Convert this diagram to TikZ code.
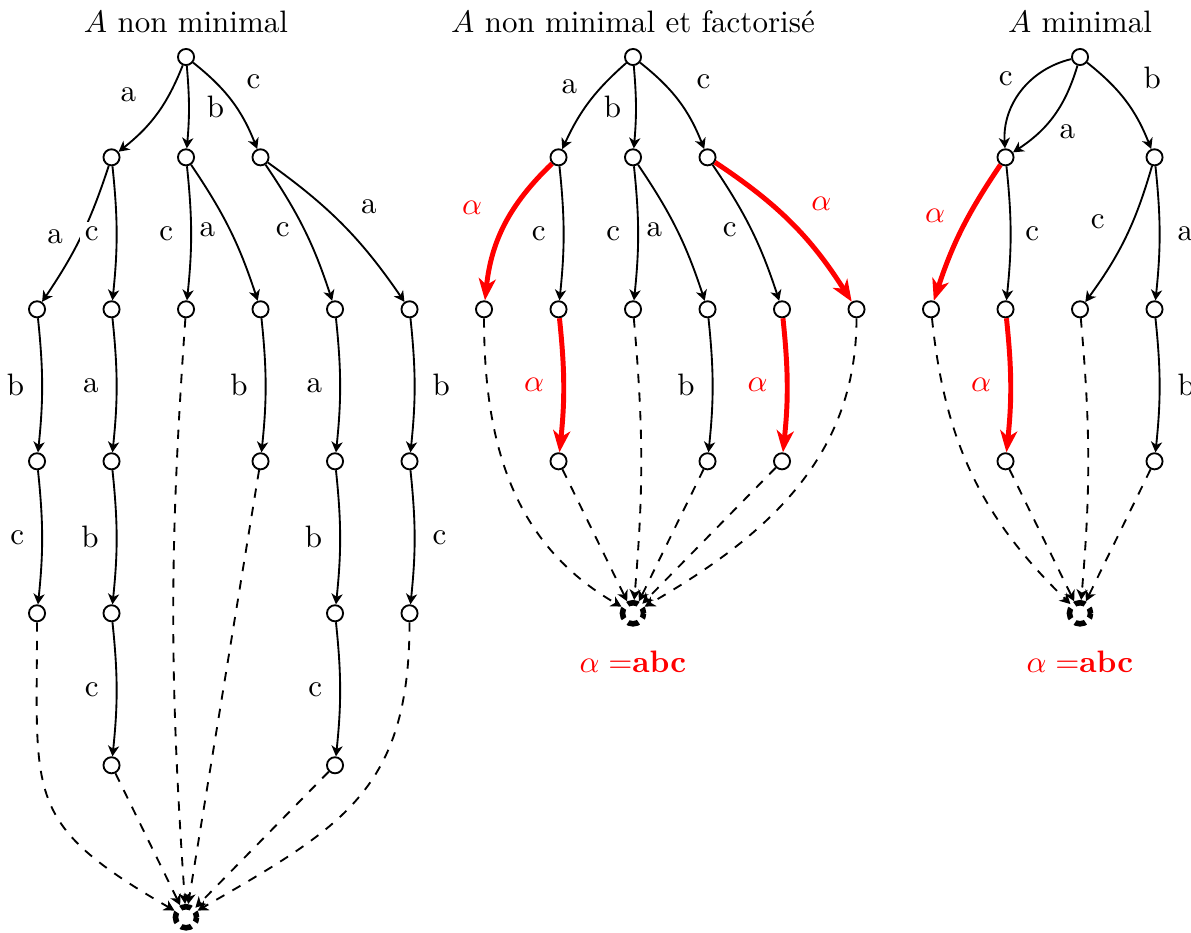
\documentclass[tikz,border=0pt]{standalone}
\usepackage{tikz}
\usetikzlibrary{arrows.meta,positioning}

\begin{document}
\begin{tikzpicture}[
  x=0.8447cm,
  y=1.7233cm,
  etat/.style={circle,draw,semithick,inner sep=0pt,minimum size=5.2pt},
  etatfinal/.style={
    circle,draw,line width=1.8pt,inner sep=0pt,minimum size=6.8pt,
    dash pattern=on 3.5pt off 1.84pt,dash phase=1.75pt
  },
  trans/.style={semithick,-{Stealth[length=3.4pt,width=3.6pt,inset=1pt]}},
  eps/.style={trans,dashed},
  facto/.style={red,ultra thick,-{Stealth[length=7pt,width=5.5pt,inset=2pt]}},
  lbl/.style={fill=white,inner sep=1.5pt},
  alab/.style={lbl,text=red}
]

\useasboundingbox (-0.497,0.375) rectangle (15.49,-5.763);

% ==================================================
% A non minimal
% ==================================================
\begin{scope}

  \node (tu) at (2,0.23) {$A$ non minimal};

  % etats
  \node[etat] (u) at (2,0) {};
  \node[etat] (ua) at (1,-0.66) {};
  \node[etat] (ub) at (2,-0.66) {};
  \node[etat] (uc) at (3,-0.66) {};
  \node[etat] (uaa) at (0,-1.66) {};
  \node[etat] (uac) at (1,-1.66) {};
  \node[etat] (ubc) at (2,-1.66) {};
  \node[etat] (uba) at (3,-1.66) {};
  \node[etat] (ucc) at (4,-1.66) {};
  \node[etat] (uca) at (5,-1.66) {};
  \node[etat] (uaab) at (0,-2.66) {};
  \node[etat] (uaca) at (1,-2.66) {};
  \node[etat] (ubab) at (3,-2.66) {};
  \node[etat] (ucca) at (4,-2.66) {};
  \node[etat] (ucab) at (5,-2.66) {};
  \node[etat] (uaabc) at (0,-3.66) {};
  \node[etat] (uacab) at (1,-3.66) {};
  \node[etat] (uccab) at (4,-3.66) {};
  \node[etat] (ucabc) at (5,-3.66) {};
  \node[etat] (uacabc) at (1,-4.66) {};
  \node[etat] (uccabc) at (4,-4.66) {};
  \node[etatfinal] (uf) at (2,-5.66) {};

  % transitions
  \draw[trans] (u) to[bend left=15] node[lbl,above left=2pt and 5pt] {a} (ua);
  \draw[trans] (u) to[bend left=5] node[lbl,right=4pt] {b} (ub);
  \draw[trans] (u) to[bend left=15] node[lbl,above right=2pt and 3pt] {c} (uc);

  \draw[trans] (ua) to[bend left=8] node[lbl,left=4pt] {a} (uaa);
  \draw[trans] (ua) to[bend left=6] node[lbl,left=4pt] {c} (uac);
  \draw[trans] (ub) to[bend left=6] node[lbl,left=4pt] {c} (ubc);
  \draw[trans] (ub) to[bend left=8] node[lbl,left=3pt] {a} (uba);
  \draw[trans] (uc) to[bend left=8] node[lbl,left=3pt] {c} (ucc);
  \draw[trans] (uc) to[bend left=10] node[lbl,above right=2pt and 4pt] {a} (uca);

  \draw[trans] (uaa) to[bend left=6] node[lbl,left=4pt] {b} (uaab);
  \draw[trans] (uaab) to[bend left=6] node[lbl,left=4pt] {c} (uaabc);
  \draw[trans] (uac) to[bend left=6] node[lbl,left=4pt] {a} (uaca);
  \draw[trans] (uaca) to[bend left=6] node[lbl,left=4pt] {b} (uacab);
  \draw[trans] (uacab) to[bend left=6] node[lbl,left=4pt] {c} (uacabc);
  \draw[trans] (uba) to[bend left=6] node[lbl,left=4pt] {b} (ubab);
  \draw[trans] (ucc) to[bend left=6] node[lbl,left=4pt] {a} (ucca);
  \draw[trans] (ucca) to[bend left=6] node[lbl,left=4pt] {b} (uccab);
  \draw[trans] (uccab) to[bend left=6] node[lbl,left=4pt] {c} (uccabc);
  \draw[trans] (uca) to[bend left=6] node[lbl,right=4pt] {b} (ucab);
  \draw[trans] (ucab) to[bend left=6] node[lbl,right=4pt] {c} (ucabc);

  % vers l'etat final
  \draw[eps] (uaabc) to[out=-90,in=150,looseness=1.4] (uf);
  \draw[eps] (uacabc) -- (uf);
  \draw[eps] (ubc) to[bend right=4] (uf);
  \draw[eps] (ubab) -- (uf);
  \draw[eps] (uccabc) -- (uf);
  \draw[eps] (ucabc) to[out=-90,in=30,looseness=1.2] (uf);

\end{scope}

% ==================================================
% A non minimal et factorise
% ==================================================
\begin{scope}[shift={(6,0)}]

  \node (tf) at (2,0.23) {$A$ non minimal et factorisé};

  % etats
  \node[etat] (f) at (2,0) {};
  \node[etat] (fa) at (1,-0.66) {};
  \node[etat] (fb) at (2,-0.66) {};
  \node[etat] (fc) at (3,-0.66) {};
  \node[etat] (fax) at (0,-1.66) {};
  \node[etat] (fac) at (1,-1.66) {};
  \node[etat] (fbc) at (2,-1.66) {};
  \node[etat] (fba) at (3,-1.66) {};
  \node[etat] (fcc) at (4,-1.66) {};
  \node[etat] (fcx) at (5,-1.66) {};
  \node[etat] (facx) at (1,-2.66) {};
  \node[etat] (fbab) at (3,-2.66) {};
  \node[etat] (fccx) at (4,-2.66) {};
  \node[etatfinal] (ff) at (2,-3.66) {};

  \node[text=red] (fdef) at (2,-3.98) {$\alpha =$\textbf{abc}};

  % transitions
  \draw[trans] (f) to[bend right=12] node[lbl,above left=1pt and 2pt] {a} (fa);
  \draw[trans] (f) to[bend left=5] node[lbl,left=3pt] {b} (fb);
  \draw[trans] (f) to[bend left=15] node[lbl,above right=2pt and 4pt] {c} (fc);

  \draw[facto] (fa) to[bend right=20] node[alab,above left=1pt and 5pt] {$\alpha$} (fax);
  \draw[trans] (fa) to[bend left=6] node[lbl,left=4pt] {c} (fac);
  \draw[trans] (fb) to[bend left=6] node[lbl,left=4pt] {c} (fbc);
  \draw[trans] (fb) to[bend left=8] node[lbl,left=3pt] {a} (fba);
  \draw[trans] (fc) to[bend left=8] node[lbl,left=3pt] {c} (fcc);
  \draw[facto] (fc) to[bend left=12] node[alab,above right=2pt and 4pt] {$\alpha$} (fcx);

  \draw[facto] (fac) to[bend left=6] node[alab,left=4pt] {$\alpha$} (facx);
  \draw[trans] (fba) to[bend left=6] node[lbl,left=4pt] {b} (fbab);
  \draw[facto] (fcc) to[bend left=6] node[alab,left=4pt] {$\alpha$} (fccx);

  % vers l'etat final
  \draw[eps] (fax) to[out=-90,in=150] (ff);
  \draw[eps] (facx) -- (ff);
  \draw[eps] (fbc) to[bend left=5] (ff);
  \draw[eps] (fbab) -- (ff);
  \draw[eps] (fccx) -- (ff);
  \draw[eps] (fcx) to[out=-90,in=30] (ff);

\end{scope}

% ==================================================
% A minimal
% ==================================================
\begin{scope}[shift={(12,0)}]

  \node (tm) at (2,0.23) {$A$ minimal};

  % etats
  \node[etat] (m) at (2,0) {};
  \node[etat] (mac) at (1,-0.66) {};
  \node[etat] (mb) at (3,-0.66) {};
  \node[etat] (mx) at (0,-1.66) {};
  \node[etat] (mc) at (1,-1.66) {};
  \node[etat] (mbc) at (2,-1.66) {};
  \node[etat] (mba) at (3,-1.66) {};
  \node[etat] (mcx) at (1,-2.66) {};
  \node[etat] (mbab) at (3,-2.66) {};
  \node[etatfinal] (mf) at (2,-3.66) {};

  \node[text=red] (mdef) at (2,-3.98) {$\alpha =$\textbf{abc}};

  % transitions
  \draw[trans] (m) to[bend right=40] node[lbl,above left=0pt and 1pt] {c} (mac);
  \draw[trans] (m) to[bend left=20] node[lbl,below right=1pt and 0pt] {a} (mac);
  \draw[trans] (m) to[bend left=15] node[lbl,above right=2pt and 4pt] {b} (mb);

  \draw[facto] (mac) to[bend right=8] node[alab,above left=0pt and 3pt] {$\alpha$} (mx);
  \draw[trans] (mac) to[bend left=6] node[lbl,right=3pt] {c} (mc);
  \draw[trans] (mb) to[bend left=10] node[lbl,above left=1pt and 5pt] {c} (mbc);
  \draw[trans] (mb) to[bend left=6] node[lbl,right=4pt] {a} (mba);

  \draw[facto] (mc) to[bend left=6] node[alab,left=4pt] {$\alpha$} (mcx);
  \draw[trans] (mba) to[bend left=6] node[lbl,right=4pt] {b} (mbab);

  % vers l'etat final
  \draw[eps] (mx) to[bend right=20] (mf);
  \draw[eps] (mcx) -- (mf);
  \draw[eps] (mbc) to[bend left=5] (mf);
  \draw[eps] (mbab) -- (mf);

\end{scope}

\end{tikzpicture}
\end{document}
